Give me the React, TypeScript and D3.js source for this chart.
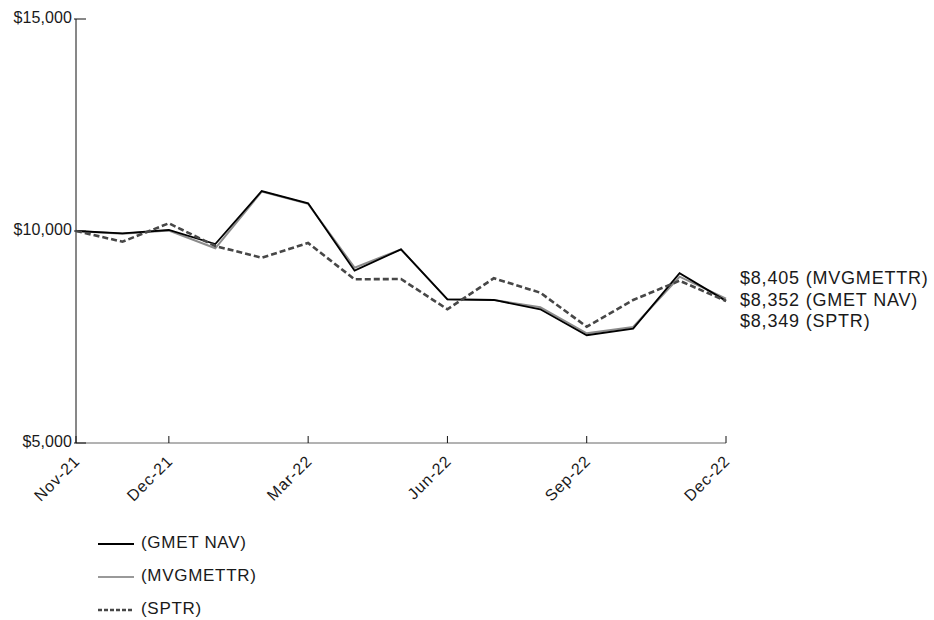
import React from "react";
import * as d3 from "d3";

const periods = ["p0", "p1", "p2", "p3", "p4", "p5", "p6", "p7", "p8", "p9", "p10", "p11", "p12", "p13", "p14"];
const tickIndex = [0, 2, 5, 8, 11, 14];
const tickLabels = ["Nov-21", "Dec-21", "Mar-22", "Jun-22", "Sep-22", "Dec-22"];
const yTicks = [5000, 10000, 15000];

const gmetNav = [10000, 9946, 10024, 9693, 10943, 10653, 9064, 9568, 8389, 8373, 8154, 7541, 7696, 9003, 8352];
const mvgmettr = [10000, 9935, 10010, 9592, 10930, 10640, 9135, 9568, 8389, 8373, 8201, 7588, 7736, 8922, 8405];
const sptr = [10000, 9748, 10182, 9646, 9370, 9717, 8861, 8868, 8154, 8885, 8545, 7743, 8373, 8828, 8349];

const seriesNames = ["(GMET NAV)", "(MVGMETTR)", "(SPTR)"];
const seriesColors = ["#000000", "#8c8c8c", "#474747"];
const seriesWidths = [1.8, 2, 2.6];
const seriesDash = [null, null, "6,3"];
const endLabelOrder = [1, 0, 2];

export default function App() {
  const W = 934, H = 620;
  const x0 = 76, x1 = 726, yTop = 19, yBot = 443;
  const x = d3.scaleLinear().domain([0, periods.length - 1]).range([x0, x1]);
  const y = d3.scaleLinear().domain([5000, 15000]).range([yBot, yTop]);
  const data = [gmetNav, mvgmettr, sptr];
  const line = d3.line<number>().x((_, i) => x(i)).y((d) => y(d));
  const font = "'Liberation Sans', Arial, sans-serif";
  const midY = y(gmetNav[gmetNav.length - 1]);

  return (
    <svg width={W} height={H} style={{ position: "absolute", left: 0, top: 0 }} fontFamily={font}>
      <rect width={W} height={H} fill="#fff" />
      {/* x axis */}
      <line x1={x0} x2={x1} y1={yBot} y2={yBot} stroke="#666" strokeWidth={1} />
      {tickIndex.map((ti, k) => (
        <g key={k}>
          <line x1={x(ti)} x2={x(ti)} y1={yBot} y2={yBot - 7} stroke="#111" strokeWidth={1} />
          <text
            transform={`translate(${x(ti) + 2},${yBot + 16}) rotate(-45)`}
            textAnchor="end"
            dominantBaseline="middle"
            fontSize={16}
            letterSpacing={0.9}
            fill="#1a1a1a"
          >
            {tickLabels[k]}
          </text>
        </g>
      ))}
      {/* y axis */}
      <line x1={x0} x2={x0} y1={yTop} y2={yBot} stroke="#111" strokeWidth={1} />
      {yTicks.map((t) => (
        <g key={t}>
          <line x1={x0 - 2} x2={x0 + 10} y1={y(t)} y2={y(t)} stroke="#111" strokeWidth={1} />
          <text x={x0 - 4} y={y(t)} textAnchor="end" dominantBaseline="middle" fontSize={16} letterSpacing={0.1} fill="#1a1a1a">
            {d3.format("$,")(t)}
          </text>
        </g>
      ))}
      {/* lines */}
      {[1, 0, 2].map((si) => (
        <path
          key={si}
          d={line(data[si]) || ""}
          fill="none"
          stroke={seriesColors[si]}
          strokeWidth={seriesWidths[si]}
          strokeDasharray={seriesDash[si] || undefined}
          strokeLinejoin="miter"
        />
      ))}
      {/* end labels */}
      {endLabelOrder.map((si, k) => (
        <text
          key={si}
          x={740}
          y={midY + (k - 1) * 21.5}
          dominantBaseline="middle"
          fontSize={18}
          letterSpacing={0.8}
          fill="#1a1a1a"
        >
          {d3.format("$,")(data[si][data[si].length - 1])} {seriesNames[si]}
        </text>
      ))}
      {/* legend */}
      {seriesNames.map((n, i) => (
        <g key={n} transform={`translate(98,${544 + i * 33})`}>
          <line x1={0} x2={36} y1={0} y2={0} stroke={i === 1 ? "#999" : seriesColors[i]} strokeWidth={i === 2 ? 2.4 : 2} strokeDasharray={seriesDash[i] ? "4,2" : undefined} />
          <text x={43} y={0} dominantBaseline="middle" fontSize={17} letterSpacing={0.7} fill="#1a1a1a">
            {n}
          </text>
        </g>
      ))}
    </svg>
  );
}
